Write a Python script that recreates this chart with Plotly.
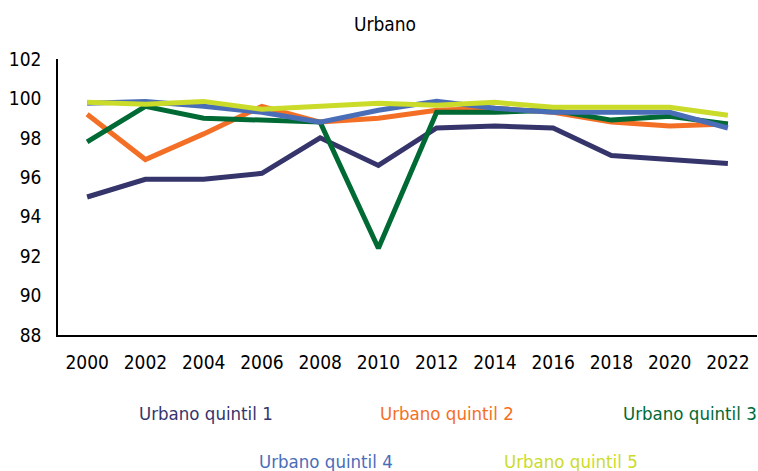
import plotly.graph_objects as go

years = ["2000", "2002", "2004", "2006", "2008", "2010", "2012", "2014", "2016", "2018", "2020", "2022"]
names = ["Urbano quintil 1", "Urbano quintil 2", "Urbano quintil 3", "Urbano quintil 4", "Urbano quintil 5"]
q1 = [95.0, 95.9, 95.9, 96.2, 98.0, 96.6, 98.5, 98.6, 98.5, 97.1, 96.9, 96.7]
q2 = [99.2, 96.9, 98.2, 99.6, 98.8, 99.0, 99.4, 99.5, 99.3, 98.8, 98.6, 98.7]
q3 = [97.8, 99.6, 99.0, 98.9, 98.8, 92.4, 99.3, 99.3, 99.4, 98.9, 99.1, 98.7]
q4 = [99.75, 99.85, 99.6, 99.3, 98.8, 99.4, 99.85, 99.5, 99.3, 99.3, 99.3, 98.5]
q5 = [99.8, 99.7, 99.85, 99.45, 99.6, 99.75, 99.65, 99.8, 99.55, 99.55, 99.55, 99.15]
colors = ["#35346B", "#F46F26", "#006A35", "#4A6DB8", "#CBDB2A"]
series = [q1, q2, q3, q4, q5]

FONT = "DejaVu Sans Condensed, Liberation Sans Narrow, sans-serif"

W, H = 758, 471
PL, PT, PR, PB = 58, 59, 757, 335  # plot area in window pixels

fig = go.Figure()
for name, vals, c in zip(names, series, colors):
    fig.add_trace(go.Scatter(x=years, y=vals, name=name, mode="lines",
                             line=dict(color=c, width=5)))

# legend as coloured text (window pixel centres)
leg_pos = [(206, 413), (447, 413), (690, 413), (326, 461), (571, 461)]
for name, c, (px, py) in zip(names, colors, leg_pos):
    fig.add_annotation(text=name, x=(px - PL) / (PR - PL), y=(PB - py) / (PB - PT),
                       xref="paper", yref="paper",
                       showarrow=False, font=dict(color=c, size=18.5, family=FONT),
                       xanchor="center", yanchor="middle")

fig.update_layout(
    width=W, height=H,
    margin=dict(l=PL, r=W - PR, t=PT, b=H - PB),
    paper_bgcolor="white", plot_bgcolor="white",
    showlegend=False,
    font=dict(family=FONT, size=19, color="black"),
    title=dict(text="Urbano", x=385 / W, xanchor="center",
               y=1 - 24 / H, yanchor="middle",
               font=dict(size=19, family=FONT, color="black")),
)
fig.update_xaxes(type="category", range=[-0.5, 11.5], showline=True, linecolor="black",
                 linewidth=1.5, showgrid=False, ticks="", ticklabelstandoff=9,
                 tickfont=dict(size=19, family=FONT), automargin=False)
fig.update_yaxes(range=[88, 102], dtick=2, showline=True, linecolor="black", linewidth=1.5,
                 showgrid=False, zeroline=False, ticks="", ticklabelstandoff=11,
                 tickfont=dict(size=19, family=FONT), automargin=False)

fig.write_html("out.html", config={"displayModeBar": False},
               post_script="document.body.style.margin='0';document.body.style.overflow='hidden';")
